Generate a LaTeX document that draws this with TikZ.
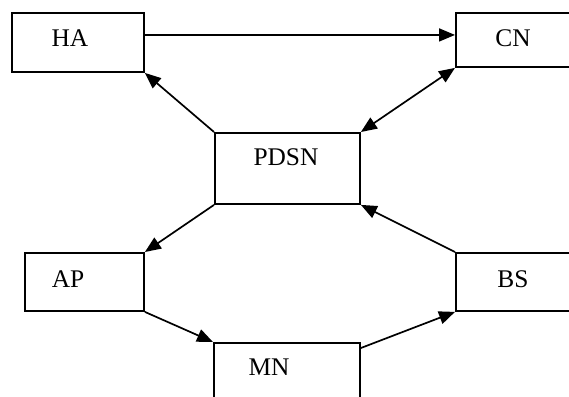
\documentclass[tikz,border=0pt]{standalone}
\usepackage{fontspec}
\setmainfont{Liberation Serif}
\usetikzlibrary{arrows.meta, calc}

\tikzset{
  box/.style={draw, line width=1.9pt, inner sep=0pt, anchor=north west},
  lbl/.style={font=\fontsize{25.4}{30}\selectfont, inner sep=0pt},
  link/.style={line width=1.7pt, -{Triangle[length=16pt, width=13pt]}},
  dlink/.style={line width=1.7pt, {Triangle[length=16pt, width=13pt]}-{Triangle[length=16pt, width=13pt]}}
}

\begin{document}
\begin{tikzpicture}[x=1pt, y=-1pt]
\useasboundingbox (0,0) rectangle (569,396);
\clip (0,0) rectangle (569,396);

% Boxes
\node[box, minimum width=132pt, minimum height=59pt] (ha) at (11,12) {};
\node[box, minimum width=140pt, minimum height=54pt] (cn) at (455,12) {};
\node[box, minimum width=145pt, minimum height=71pt] (pdsn) at (214,132) {};
\node[box, minimum width=119pt, minimum height=58pt] (ap) at (24,252) {};
\node[box, minimum width=140pt, minimum height=58pt] (bs) at (455,252) {};
\node[box, minimum width=146pt, minimum height=70pt] (mn) at (213,342) {};

% Labels
\node[lbl] (ha-txt) at (70,38) {HA};
\node[lbl] (cn-txt) at (513,38) {CN};
\node[lbl] (pdsn-txt) at (286,157) {PDSN};
\node[lbl] (ap-txt) at (68,279) {AP};
\node[lbl] (bs-txt) at (513,279) {BS};
\node[lbl] (mn-txt) at (269,367) {MN};

% Links
\draw[link] ([yshift=7.5pt]ha.east) -- ([yshift=7.5pt]ha.east -| cn.west);
\draw[link] (pdsn.north west) -- (ha.south east);
\draw[dlink] (pdsn.north east) -- (cn.south west);
\draw[link] (pdsn.south west) -- (ap.north east);
\draw[link] (bs.north west) -- (pdsn.south east);
\draw[link] (ap.south east) -- (mn.north west);
\draw[link] ([yshift=-6pt]mn.north east) -- (bs.south west);

\end{tikzpicture}
\end{document}
